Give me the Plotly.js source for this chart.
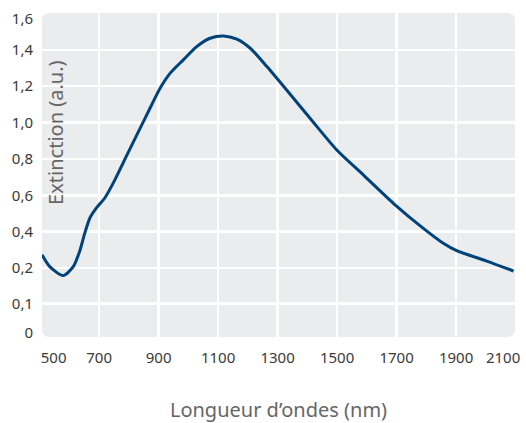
<!DOCTYPE html>
<html>
<head>
<meta charset="utf-8">
<script src="https://cdn.plot.ly/plotly-3.0.1.min.js"></script>
<style>html,body{margin:0;padding:0;background:#fff;}#chart{width:526px;height:423px;}</style>
</head>
<body>
<div id="chart"></div>
<script>
// Wavelength (nm) and extinction (a.u.)
const wavelength = [508, 534, 579, 613, 636, 652, 669, 691, 719, 753, 786, 838, 871, 905, 939, 983, 1028, 1073, 1118, 1163, 1208, 1264, 1409, 1499, 1588, 1689, 1790, 1857, 1902, 2003, 2093];
const extinction = [0.272, 0.207, 0.158, 0.207, 0.299, 0.393, 0.475, 0.530, 0.585, 0.685, 0.796, 0.969, 1.079, 1.189, 1.272, 1.345, 1.418, 1.464, 1.477, 1.459, 1.409, 1.308, 1.024, 0.849, 0.712, 0.556, 0.418, 0.336, 0.295, 0.238, 0.183];

// Axis labels
const xTickText = ["500", "700", "900", "1100", "1300", "1500", "1700", "1900", "2100"];
const xTickPos = [547, 700, 900, 1100, 1300, 1500, 1700, 1900, 2058];
const xGrid = [700, 900, 1100, 1300, 1500, 1700, 1900];
const yTickText = ["0", "0,1", "0,2", "0,4", "0,6", "0,8", "1,0", "1,2", "1,4", "1,6"];
const yTickPos = [-0.158, 0.005, 0.2, 0.4, 0.6, 0.8, 1.0, 1.2, 1.4, 1.571];
const yGrid = [0.005, 0.2, 0.4, 0.6, 0.8, 1.0, 1.2, 1.4];

const FONT = '"Noto Sans", "Open Sans", "DejaVu Sans", sans-serif';
const rx = 8/473, ry = 8/324;
const rr = `M ${rx},0 L ${1-rx},0 Q 1,0 1,${ry} L 1,${1-ry} Q 1,1 ${1-rx},1 L ${rx},1 Q 0,1 0,${1-ry} L 0,${ry} Q 0,0 ${rx},0 Z`;

const trace = {
  x: wavelength,
  y: extinction,
  type: 'scatter',
  mode: 'lines',
  line: {color: '#00427b', width: 3, shape: 'spline', smoothing: 0.7},
  hoverinfo: 'skip'
};

const layout = {
  width: 526,
  height: 423,
  margin: {l: 42, r: 11, t: 13, b: 86},
  paper_bgcolor: '#ffffff',
  plot_bgcolor: 'rgba(0,0,0,0)',
  showlegend: false,
  font: {family: FONT, color: '#3a3a3a', size: 15},
  shapes: [{
    type: 'path', xref: 'paper', yref: 'paper', path: rr,
    fillcolor: '#ebeced', line: {width: 0}, layer: 'below'
  }],
  xaxis: {
    range: [508, 2098],
    tickmode: 'array', tickvals: xTickPos, ticktext: xTickText,
    showgrid: false, zeroline: false, showline: false, ticks: '',
    ticklabelstandoff: 10,
    tickfont: {family: FONT, size: 15, color: '#3a3a3a'},
    minor: {tickmode: 'array', tickvals: xGrid, showgrid: true, gridcolor: '#ffffff', gridwidth: 2.5, ticks: ''},
    title: {text: 'Longueur d\u2019ondes (nm)', font: {family: FONT, size: 20, color: '#666666'}, standoff: 37}
  },
  yaxis: {
    range: [-0.18, 1.603],
    tickmode: 'array', tickvals: yTickPos, ticktext: yTickText,
    showgrid: false, zeroline: false, showline: false, ticks: '',
    ticklabelstandoff: 8,
    tickfont: {family: FONT, size: 15, color: '#3a3a3a'},
    minor: {tickmode: 'array', tickvals: yGrid, showgrid: true, gridcolor: '#ffffff', gridwidth: 2.5, ticks: ''}
  },
  annotations: [{
    text: 'Extinction (a.u.)', xref: 'paper', yref: 'paper',
    x: 0.0296, y: 0.63, textangle: -90, showarrow: false,
    xanchor: 'center', yanchor: 'middle',
    font: {family: FONT, size: 20, color: '#666666'}
  }]
};

Plotly.newPlot('chart', [trace], layout, {displayModeBar: false, staticPlot: true});
</script>
</body>
</html>
